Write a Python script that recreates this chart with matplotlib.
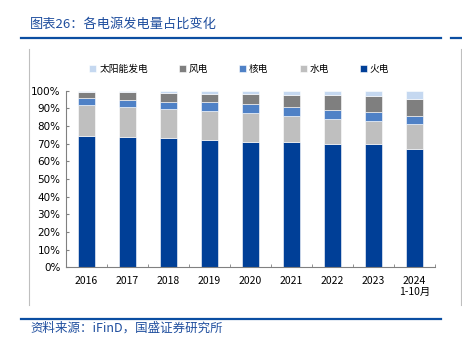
import matplotlib.pyplot as plt
import numpy as np
from matplotlib.lines import Line2D

plt.rcParams['font.family'] = ['Noto Sans CJK SC', 'DejaVu Sans']

years = ['2016', '2017', '2018', '2019', '2020', '2021', '2022', '2023', '2024\n1-10月']
# share of generation, %
thermal = [74.3, 73.6, 73.2, 72.1, 71.0, 71.0, 69.6, 69.6, 66.8]
hydro = [17.6, 17.0, 16.3, 16.2, 16.4, 14.7, 14.4, 13.2, 14.2]
nuclear = [4.1, 4.1, 4.3, 5.1, 5.1, 4.9, 5.2, 5.0, 4.8]
wind = [3.1, 4.4, 4.9, 4.9, 5.6, 7.1, 8.2, 9.0, 9.3]
solar = [0.9, 0.9, 1.3, 1.7, 1.9, 2.3, 2.6, 3.2, 4.9]

series = [('火电', thermal, '#003F97'),
          ('水电', hydro, '#BFBFBF'),
          ('核电', nuclear, '#4F81C6'),
          ('风电', wind, '#7F7F7F'),
          ('太阳能发电', solar, '#C5D8F0')]

fig = plt.figure(figsize=(4.62, 3.39), dpi=100)
ax = fig.add_axes([0.1429, 0.2115, 0.7987, 0.5209])

x = np.arange(len(years))
bottom = np.zeros(len(years))
handles = {}
for name, vals, col in series:
    v = np.array(vals) / 100.0
    b = ax.bar(x, v, 0.42, bottom=bottom, color=col, edgecolor='white', linewidth=0.4, label=name)
    handles[name] = b
    bottom += v

ax.set_xlim(-0.5, len(years) - 0.5)
ax.set_ylim(0, 1)
ax.set_yticks(np.arange(0, 1.01, 0.1))
ax.set_yticklabels(['%d%%' % (i * 10) for i in range(11)], fontsize=7.5, family=['DejaVu Sans'])
ax.set_xticks(x)
ax.set_xticklabels(years, fontsize=7.5)
ax.set_xticks(np.arange(-0.5, len(years), 1), minor=True)
ax.tick_params(axis='x', which='major', length=0, pad=6)
ax.tick_params(axis='x', which='minor', length=2.5, color='#808080', direction='in')
ax.tick_params(axis='y', length=2.5, color='#808080', direction='in', pad=4)
for s in ['top', 'right']:
    ax.spines[s].set_visible(False)
for s in ['left', 'bottom']:
    ax.spines[s].set_color('#808080')
    ax.spines[s].set_linewidth(0.8)

order = ['太阳能发电', '风电', '核电', '水电', '火电']
ax.legend([handles[k] for k in order], order, loc='lower left', bbox_to_anchor=(0.053, 1.075),
          ncol=5, frameon=False, fontsize=7, handlelength=0.7, handleheight=0.7,
          handletextpad=0.3, columnspacing=3.2, borderaxespad=0)

blue = '#1F4E9E'
fig.text(0.065, 0.929, '图表26：各电源发电量占比变化', fontsize=9.5, color=blue, style='italic', va='center')
fig.text(0.065, 0.032, '资料来源：iFinD，国盛证券研究所', fontsize=9, color=blue, style='italic', va='center')
fig.add_artist(Line2D([0.045, 0.955], [0.888, 0.888], color='#0B4EA2', lw=1.6))
fig.add_artist(Line2D([0.976, 1.0], [0.888, 0.888], color='#0B4EA2', lw=1.6))
fig.add_artist(Line2D([0.045, 0.955], [0.06, 0.06], color='#0B4EA2', lw=1.6))
fig.add_artist(Line2D([0.063, 0.063], [0.1, 0.855], color='#BFBFBF', lw=0.8))
fig.add_artist(Line2D([0.997, 0.997], [0.1, 0.855], color='#BFBFBF', lw=0.8))

fig.savefig('out.png', dpi=100)
